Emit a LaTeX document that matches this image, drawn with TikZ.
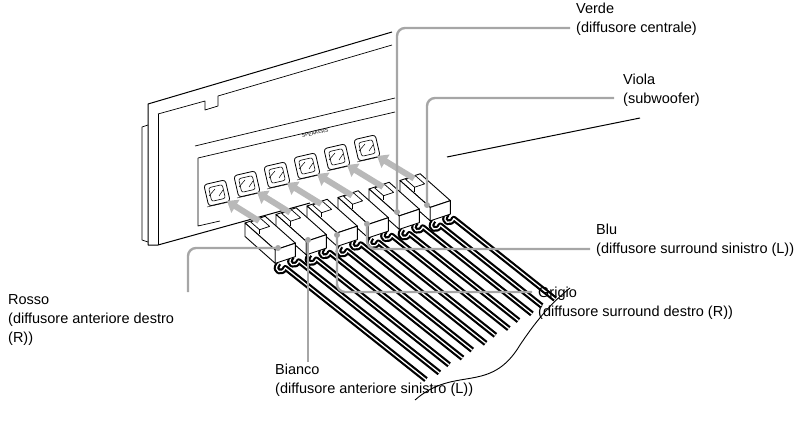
\documentclass[tikz,border=0pt]{standalone}
\usepackage{fontspec}
\setmainfont{Liberation Sans}
\usetikzlibrary{arrows.meta,calc}
\begin{document}
\begin{tikzpicture}[x=1pt,y=-1pt,line join=round,
  lbl/.style={font=\fontsize{14.5}{19}\selectfont,align=left,anchor=north west,inner sep=0pt},
  lead/.style={draw=gray!70,line width=2.4pt,rounded corners=8pt},
  dot/.style={circle,fill=gray!70,inner sep=0pt,minimum size=6pt},
  ar/.style={draw=gray!55,line width=6pt,-{Triangle[length=10pt,width=15pt]}},
  cab/.style={draw=black,line width=2.2pt,double=white,double distance=1.3pt}]
\useasboundingbox (0,0) rectangle (804,428);
% unit
\draw[line width=1pt] (148,104) -- (392,32);
\draw[line width=0.7pt] (158,114) -- (205,101) -- (205,110) -- (218,106) -- (218,96) -- (392,45);
\draw[line width=1pt] (148,104) -- (148,245) -- (158,245) -- (310,203);
\draw[line width=0.7pt] (158,114) -- (158,245);
\draw[line width=0.7pt] (148,125) -- (142,127) -- (142,240) -- (148,242);
\draw[line width=1pt] (447,157) -- (640,118);
\draw[line width=0.7pt] (195,146) -- (395,98);
\draw[line width=0.7pt] (198,158) -- (198,226) -- (220,221);
\draw[line width=0.7pt] (198,158) -- (395,112);
\node[font=\fontsize{5}{6}\selectfont,rotate=13] (sp) at (315,133) {SPEAKERS};
% jacks
\foreach \i in {0,...,5}{
  \coordinate (j\i) at ({217+30*\i},{193-9*\i});
  \draw[line width=0.8pt,rounded corners=3pt,rotate around={13:(j\i)}] ($(j\i)+(-11,-11)$) rectangle ($(j\i)+(11,11)$);
  \draw[line width=0.6pt,rounded corners=2pt,rotate around={13:(j\i)}] ($(j\i)+(-7,-7)$) rectangle ($(j\i)+(7,7)$);
  \draw[line width=0.5pt] ($(j\i)+(-8,3)$) -- ($(j\i)+(-2,-4)$) ($(j\i)+(2,3)$) -- ($(j\i)+(6,-3)$);
  \draw[line width=0.4pt] ($(j\i)+(-10,14)$) -- ($(j\i)+(12,9)$);
}
% plugs, right to left
\foreach \i/\L in {5/116,4/125,3/134,2/143,1/152,0/161}{
  \coordinate (p\i) at ({245+31*\i},{223-8.5*\i});
  \begin{scope}[shift={(p\i)},scale=1.12]
    \draw[cab] (30,36) .. controls (24,44) and (34,46) .. (36,40) -- ++({0.78*\L},{0.62*\L});
    \draw[cab] (42,30) .. controls (36,38) and (46,40) .. (48,34) -- ++({0.78*\L},{0.62*\L});
    \draw[fill=white,line width=0.9pt] (0,0) -- (18,-6) -- (45,18) -- (27,24) -- cycle;
    \draw[fill=white,line width=0.9pt] (0,0) -- (27,24) -- (27,36) -- (0,12) -- cycle;
    \draw[fill=white,line width=0.9pt] (27,24) -- (45,18) -- (45,30) -- (27,36) -- cycle;
    \draw[fill=white,line width=0.7pt] (5,-1) -- (14,-4) -- (22,3) -- (13,6) -- cycle;
    \draw[line width=0.7pt] (13,6) -- (13,10);
  \end{scope}
}
\draw[line width=0.9pt] (415,400) .. controls (455,365) and (490,395) .. (520,345) .. controls (540,315) and (555,300) .. (570,288);
% arrows
\foreach \i in {0,...,5}{
  \draw[ar] ($(p\i)+(14,-2)$) -- ($(j\i)+(10,8)$);
}
% labels
\node[lbl] (verde) at (576,3) {Verde\\(diffusore centrale)};
\node[dot] (dv) at (397,212) {};
\draw[lead] (570,28) -- (397,28) -- (dv);
\node[lbl] (viola) at (623,74) {Viola\\(subwoofer)};
\node[dot] (dvi) at (427,205) {};
\draw[lead] (614,98) -- (427,98) -- (dvi);
\node[lbl] (blu) at (596,224) {Blu\\(diffusore surround sinistro (L))};
\node[dot] (db) at (367,224) {};
\draw[lead] (590,249) -- (367,249) -- (db);
\node[lbl] (grigio) at (538,287) {Grigio\\(diffusore surround destro (R))};
\node[dot] (dg) at (337,235) {};
\draw[lead] (532,292) -- (337,292) -- (dg);
\node[lbl] (bianco) at (275,364) {Bianco\\(diffusore anteriore sinistro (L))};
\node[dot] (dbi) at (308,240) {};
\draw[lead] (308,362) -- (dbi);
\node[lbl] (rosso) at (8,294) {Rosso\\(diffusore anteriore destro\\(R))};
\node[dot] (dr) at (278,248) {};
\draw[lead] (188,292) -- (188,248) -- (dr);
\end{tikzpicture}
\end{document}
